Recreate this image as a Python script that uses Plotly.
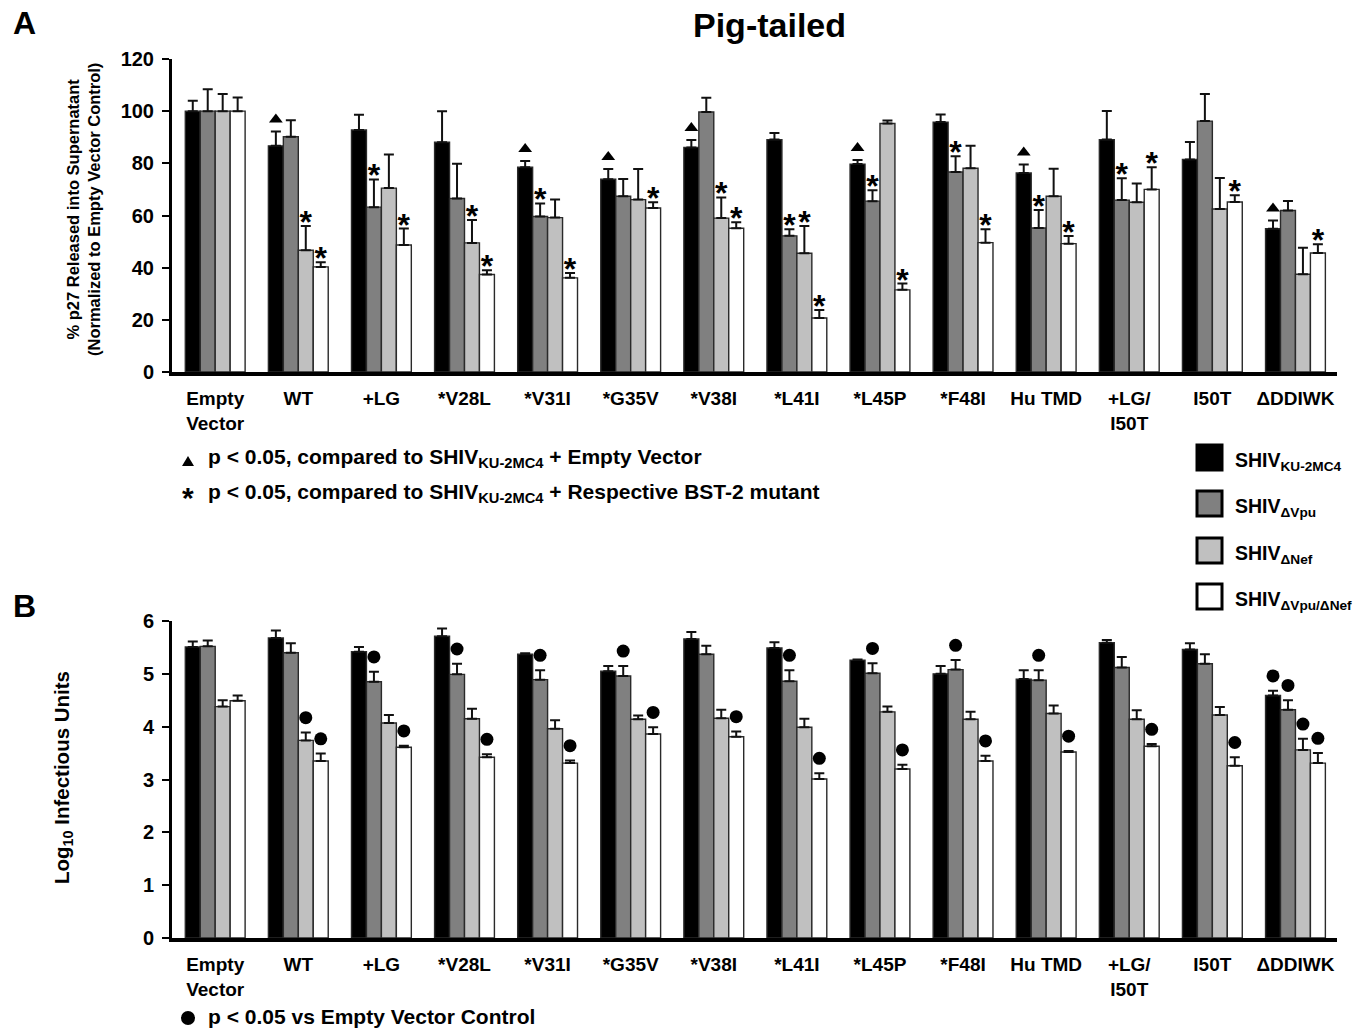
import plotly.graph_objects as go

# ---------------- data ----------------
categories = ["Empty<br>Vector", "WT", "+LG", "*V28L", "*V31I", "*G35V", "*V38I",
              "*L41I", "*L45P", "*F48I", "Hu TMD", "+LG/<br>I50T", "I50T", "ΔDDIWK"]

series_names = ["SHIV<sub>KU-2MC4</sub>", "SHIV<sub>ΔVpu</sub>",
                "SHIV<sub>ΔNef</sub>", "SHIV<sub>ΔVpu/ΔNef</sub>"]

# Panel A: % p27 released (normalized to empty vector)
p27_ku2mc4 = [100, 86.7, 92.8, 88.1, 78.5, 73.9, 86.1, 89.1, 79.7, 95.8, 76.3, 89.1, 81.5, 54.9]
p27_dvpu   = [100, 90.2, 63.2, 66.5, 59.6, 67.4, 99.7, 52.2, 65.5, 76.7, 55.2, 65.9, 96.2, 61.9]
p27_dnef   = [100, 46.7, 70.5, 49.5, 59.2, 66.1, 59.0, 45.5, 95.3, 78.1, 67.4, 65.1, 62.5, 37.5]
p27_dboth  = [100, 40.3, 48.7, 37.4, 36.1, 62.9, 55.1, 20.7, 31.5, 49.6, 49.2, 70.0, 65.2, 45.6]

p27_err_ku2mc4 = [4.0, 5.5, 5.8, 11.9, 2.4, 3.9, 2.8, 2.5, 1.6, 2.9, 3.3, 11.0, 6.7, 3.2]
p27_err_dvpu   = [8.4, 6.3, 10.6, 13.3, 5.0, 6.6, 5.4, 2.5, 4.2, 6.0, 6.9, 8.4, 10.4, 3.7]
p27_err_dnef   = [6.6, 9.3, 12.9, 8.8, 6.9, 11.7, 7.9, 10.5, 1.1, 8.6, 10.5, 7.2, 11.9, 10.1]
p27_err_dboth  = [5.2, 1.8, 6.3, 1.6, 1.9, 2.2, 2.3, 3.1, 2.4, 5.1, 2.9, 8.5, 2.6, 3.4]

# significance flags, panel A
tri_ku2mc4  = [0, 1, 0, 0, 1, 1, 1, 0, 1, 0, 1, 0, 0, 1]
star_dvpu   = [0, 0, 1, 0, 1, 0, 0, 1, 1, 1, 1, 1, 0, 0]
star_dnef   = [0, 1, 0, 1, 0, 0, 1, 1, 0, 0, 0, 0, 0, 0]
star_dboth  = [0, 1, 1, 1, 1, 1, 1, 1, 1, 1, 1, 1, 1, 1]

# Panel B: log10 infectious units
inf_ku2mc4 = [5.51, 5.68, 5.42, 5.71, 5.37, 5.05, 5.66, 5.49, 5.26, 5.00, 4.90, 5.59, 5.46, 4.59]
inf_dvpu   = [5.52, 5.40, 4.85, 4.99, 4.89, 4.96, 5.37, 4.86, 5.01, 5.08, 4.88, 5.12, 5.19, 4.32]
inf_dnef   = [4.38, 3.74, 4.07, 4.15, 3.96, 4.14, 4.16, 3.99, 4.28, 4.14, 4.25, 4.14, 4.22, 3.56]
inf_dboth  = [4.49, 3.35, 3.61, 3.42, 3.31, 3.86, 3.81, 3.01, 3.20, 3.35, 3.52, 3.63, 3.26, 3.31]

inf_err_ku2mc4 = [0.10, 0.14, 0.09, 0.15, 0.02, 0.10, 0.13, 0.11, 0.01, 0.15, 0.17, 0.05, 0.12, 0.09]
inf_err_dvpu   = [0.11, 0.18, 0.19, 0.20, 0.18, 0.19, 0.16, 0.21, 0.19, 0.18, 0.19, 0.20, 0.18, 0.18]
inf_err_dnef   = [0.12, 0.15, 0.15, 0.19, 0.16, 0.07, 0.16, 0.16, 0.10, 0.14, 0.15, 0.17, 0.15, 0.21]
inf_err_dboth  = [0.10, 0.14, 0.03, 0.06, 0.05, 0.13, 0.10, 0.11, 0.08, 0.10, 0.02, 0.04, 0.16, 0.19]

dot_ku2mc4 = [0, 0, 0, 0, 0, 0, 0, 0, 0, 0, 0, 0, 0, 1]
dot_dvpu   = [0, 0, 1, 1, 1, 1, 0, 1, 1, 1, 1, 0, 0, 1]
dot_dnef   = [0, 1, 0, 0, 0, 0, 0, 0, 0, 0, 0, 0, 0, 1]
dot_dboth  = [0, 1, 1, 1, 1, 1, 1, 1, 1, 1, 1, 1, 1, 1]

yticks_a = [0, 20, 40, 60, 80, 100, 120]
yticks_b = [0, 1, 2, 3, 4, 5, 6]

# ---------------- styling ----------------
W, H = 1368, 1030
FONT = "Liberation Sans, Arial, sans-serif"
colors = ["#000000", "#808080", "#c0c0c0", "#ffffff"]
BW = 0.18  # bar width in category units


def px(x):
    return x / W


def py(y):
    return 1 - y / H


def positions(k):
    return [i + (k - 1.5) * BW for i in range(len(categories))]


fig = go.Figure()

panelA = [(p27_ku2mc4, p27_err_ku2mc4), (p27_dvpu, p27_err_dvpu),
          (p27_dnef, p27_err_dnef), (p27_dboth, p27_err_dboth)]
panelB = [(inf_ku2mc4, inf_err_ku2mc4), (inf_dvpu, inf_err_dvpu),
          (inf_dnef, inf_err_dnef), (inf_dboth, inf_err_dboth)]

for axes, panel in (("y", panelA), ("y2", panelB)):
    xa = "x" if axes == "y" else "x2"
    for k, (vals, errs) in enumerate(panel):
        fig.add_trace(go.Bar(
            x=positions(k), y=vals, width=BW, name=series_names[k],
            xaxis=xa, yaxis=axes, showlegend=False,
            marker=dict(color=colors[k], line=dict(color="#2a2a2a", width=1.4)),
            error_y=dict(type="data", symmetric=False, array=errs,
                         arrayminus=[0] * len(errs), color="#111111",
                         thickness=2, width=5),
        ))

# triangles (panel A, black series)
xs, ys = [], []
pos0 = positions(0)
for i, f in enumerate(tri_ku2mc4):
    if f:
        xs.append(pos0[i])
        ys.append(p27_ku2mc4[i] + p27_err_ku2mc4[i] + 4.6)
fig.add_trace(go.Scatter(x=xs, y=ys, mode="markers", xaxis="x", yaxis="y",
                         showlegend=False,
                         marker=dict(symbol="triangle-up", size=12, color="black")))

# stars (panel A)
xs, ys = [], []
for k, flags in ((1, star_dvpu), (2, star_dnef), (3, star_dboth)):
    vals, errs = panelA[k]
    pk = positions(k)
    for i, f in enumerate(flags):
        if f:
            xs.append(pk[i])
            ys.append(vals[i] + errs[i] + 0.4)
fig.add_trace(go.Scatter(x=xs, y=ys, mode="text", text=["<b>*</b>"] * len(xs),
                         textposition="middle center", xaxis="x", yaxis="y",
                         showlegend=False,
                         textfont=dict(family=FONT, size=32, color="black")))

# dots (panel B)
xs, ys = [], []
for k, flags in enumerate((dot_ku2mc4, dot_dvpu, dot_dnef, dot_dboth)):
    vals, errs = panelB[k]
    pk = positions(k)
    for i, f in enumerate(flags):
        if f:
            xs.append(pk[i])
            ys.append(vals[i] + errs[i] + 0.28)
fig.add_trace(go.Scatter(x=xs, y=ys, mode="markers", xaxis="x2", yaxis="y2",
                         showlegend=False,
                         marker=dict(symbol="circle", size=13, color="black")))

tickfont = dict(family=FONT, size=20, color="black", weight="bold")
catfont = dict(family=FONT, size=19, color="black", weight="bold")

xcommon = dict(range=[-0.52, 13.5], domain=[px(172), px(1337)],
               tickmode="array", tickvals=list(range(len(categories))),
               ticktext=categories, ticks="", showline=True, linewidth=4,
               linecolor="black", showgrid=False, zeroline=False,
               tickfont=catfont, ticklabelstandoff=6, fixedrange=True,
               automargin=False)
ycommon = dict(showline=True, linewidth=3, linecolor="black", ticks="outside",
               ticklen=7, tickwidth=2, tickcolor="black", showgrid=False,
               zeroline=False, tickfont=tickfont, ticklabelstandoff=4,
               tickmode="array", fixedrange=True, automargin=False)

fig.update_layout(
    width=W, height=H, margin=dict(l=0, r=0, t=0, b=0, pad=0, autoexpand=False),
    paper_bgcolor="white", plot_bgcolor="white", showlegend=False,
    barmode="overlay", font=dict(family=FONT, color="black"),
    xaxis=dict(anchor="y", **xcommon),
    xaxis2=dict(anchor="y2", **xcommon),
    yaxis=dict(anchor="x", domain=[py(372), py(59)], range=[0, 120],
               tickvals=yticks_a, **ycommon),
    yaxis2=dict(anchor="x2", domain=[py(938), py(621)], range=[0, 6],
                tickvals=yticks_b, **ycommon),
)

bold = lambda s: dict(family=FONT, size=s, color="black", weight="bold")
ann = []
ann.append(dict(text="Pig-tailed", x=px(769), y=py(25), font=bold(34)))
ann.append(dict(text="A", x=px(24), y=py(23), font=bold(32)))
ann.append(dict(text="B", x=px(24), y=py(606), font=bold(32)))
ann.append(dict(text="% p27 Released into Supernatant<br>(Normalized to Empty Vector Control)",
                x=px(83), y=py(210), textangle=-90, font=bold(16.5)))
ann.append(dict(text="Log<sub>10</sub> Infectious Units", x=px(63), y=py(778),
                textangle=-90, font=bold(20.5)))
ann.append(dict(text="p < 0.05, compared to SHIV<sub>KU-2MC4</sub> + Empty Vector",
                x=px(206), y=py(458), xanchor="left", font=bold(21)))
ann.append(dict(text="p < 0.05, compared to SHIV<sub>KU-2MC4</sub> + Respective BST-2 mutant",
                x=px(206), y=py(493), xanchor="left", font=bold(21)))
ann.append(dict(text="*", x=px(188), y=py(498), font=bold(30)))
ann.append(dict(text="p < 0.05 vs Empty Vector Control", x=px(206), y=py(1016),
                xanchor="left", font=bold(21)))

shapes = []
# triangle and circle keys
shapes.append(dict(type="path", xref="paper", yref="paper",
                   path=f"M {px(182)} {py(466)} L {px(194)} {py(466)} L {px(188)} {py(456)} Z",
                   fillcolor="black", line=dict(width=0)))
shapes.append(dict(type="circle", xref="paper", yref="paper",
                   x0=px(181), x1=px(195), y0=py(1025), y1=py(1011),
                   fillcolor="black", line=dict(width=0)))

# legend
leg_tops = [445, 491, 538, 584]
for k, top in enumerate(leg_tops):
    shapes.append(dict(type="rect", xref="paper", yref="paper",
                       x0=px(1197), x1=px(1222), y0=py(top + 25), y1=py(top),
                       fillcolor=colors[k], line=dict(color="black", width=3)))
    ann.append(dict(text=series_names[k], x=px(1233), y=py(top + 16),
                    xanchor="left", font=bold(19.5)))

for a in ann:
    a.setdefault("xref", "paper")
    a.setdefault("yref", "paper")
    a.setdefault("showarrow", False)
    a.setdefault("xanchor", "center")
    a.setdefault("yanchor", "middle")

fig.update_layout(annotations=ann, shapes=shapes)

fig.write_html("out.html", config={"displayModeBar": False},
               post_script="document.body.style.margin='0';"
                           "document.body.style.overflow='hidden';")
